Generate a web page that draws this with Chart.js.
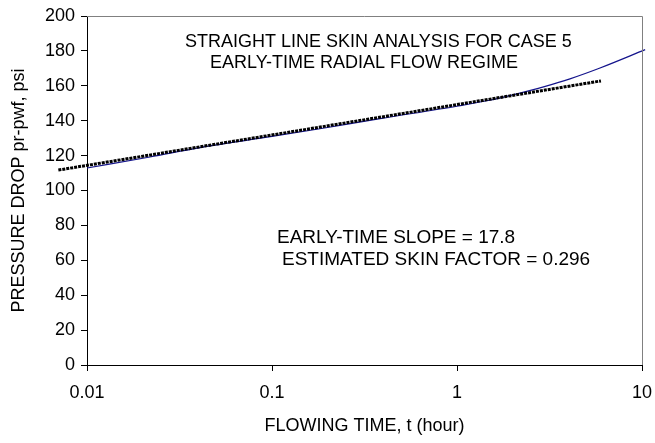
<!DOCTYPE html>
<html>
<head>
<meta charset="utf-8">
<script src="https://cdn.jsdelivr.net/npm/chart.js@4/dist/chart.umd.min.js"></script>
<style>
  html, body { margin: 0; padding: 0; background: #fff; }
  #wrap { width: 655px; height: 443px; }
</style>
</head>
<body>
<div id="wrap"><canvas id="chart" width="655" height="443"></canvas></div>
<script>
// Straight line skin analysis, case 5

const timeTicks = [0.01, 0.1, 1, 10];

// blue curve: measured pressure drop vs flowing time
const curveTime = [0.01, 0.0219, 0.0408, 0.1, 0.1815, 0.384, 1.0, 1.5, 2.0, 3.0, 4.08, 5.93, 10.4];
const curveDrop = [112.9, 119.2, 124.6, 131.0, 135.4, 141.2, 148.3, 151.7, 154.8, 159.7, 164.0, 170.2, 180.7];

// dotted straight-line fit (early-time radial flow)
const fitTime = [0.007, 6.0];
const fitDrop = [111.7, 162.8];

const titleLines = ['STRAIGHT LINE SKIN ANALYSIS FOR CASE 5', 'EARLY-TIME RADIAL FLOW REGIME'];
const noteLines = ['EARLY-TIME SLOPE = 17.8', 'ESTIMATED SKIN FACTOR = 0.296'];

const FONT = '"Liberation Sans", Arial, sans-serif';

const toPoints = (xs, ys) => xs.map((x, i) => ({ x, y: ys[i] }));

// gray frame on top/right + text annotations
const framePlugin = {
    id: 'frame',
    afterDraw(chart) {
        const { ctx, chartArea: a } = chart;
        ctx.save();
        ctx.strokeStyle = '#808080';
        ctx.lineWidth = 1;
        ctx.beginPath();
        ctx.moveTo(a.left, a.top + 0.5);
        ctx.lineTo(a.right + 0.5, a.top + 0.5);
        ctx.lineTo(a.right + 0.5, a.bottom);
        ctx.stroke();

        ctx.fillStyle = '#000';
        ctx.textBaseline = 'middle';
        ctx.textAlign = 'left';
        ctx.font = '18px ' + FONT;
        ctx.fillText(titleLines[0], 185, 42);
        ctx.fillText(titleLines[1], 210, 63);
        ctx.font = '19px ' + FONT;
        ctx.fillText(noteLines[0], 277, 238);
        ctx.fillText(noteLines[1], 282, 260);
        ctx.restore();
    }
};

new Chart(document.getElementById('chart'), {
    type: 'scatter',
    data: {
        datasets: [{
            label: 'Straight line',
            data: toPoints(fitTime, fitDrop),
            showLine: true,
            borderColor: '#000',
            borderWidth: 3,
            borderDash: [3, 1],
            pointRadius: 0,
            clip: false,
        }, {
            label: 'Pressure drop',
            data: toPoints(curveTime, curveDrop),
            showLine: true,
            borderColor: '#14148c',
            borderWidth: 1.2,
            pointRadius: 0,
            cubicInterpolationMode: 'monotone',
            clip: false,
        }],
    },
    options: {
        responsive: false,
        animation: false,
        devicePixelRatio: 1,
        layout: { padding: { top: 16, right: 13, left: 0, bottom: 0 } },
        plugins: {
            legend: { display: false },
            tooltip: { enabled: false },
        },
        scales: {
            x: {
                type: 'logarithmic',
                min: 0.01,
                max: 10,
                afterBuildTicks: (s) => { s.ticks = timeTicks.map(v => ({ value: v })); },
                afterFit: (s) => { s.height = 78; s.paddingLeft = 0; s.paddingRight = 0; },
                ticks: {
                    color: '#000',
                    font: { family: FONT, size: 18 },
                    padding: 11,
                    maxRotation: 0,
                    callback: (v) => String(v),
                },
                grid: { drawOnChartArea: false, drawTicks: true, tickLength: 6, color: '#000' },
                border: { color: '#000', width: 1 },
                title: {
                    display: true,
                    text: 'FLOWING TIME, t (hour)',
                    color: '#000',
                    font: { family: FONT, size: 18 },
                    padding: { top: 0, bottom: 6 },
                },
            },
            y: {
                min: 0,
                max: 200,
                afterFit: (s) => { s.width = 87; s.paddingTop = 0; s.paddingBottom = 0; },
                ticks: {
                    stepSize: 20,
                    color: '#000',
                    font: { family: FONT, size: 18 },
                    padding: 6,
                },
                grid: { drawOnChartArea: false, drawTicks: true, tickLength: 6, color: '#000' },
                border: { color: '#000', width: 1 },
                title: {
                    display: true,
                    text: 'PRESSURE DROP pr-pwf, psi',
                    color: '#000',
                    font: { family: FONT, size: 18 },
                    padding: { top: 8, bottom: 0 },
                },
            },
        },
    },
    plugins: [framePlugin],
});
</script>
</body>
</html>
